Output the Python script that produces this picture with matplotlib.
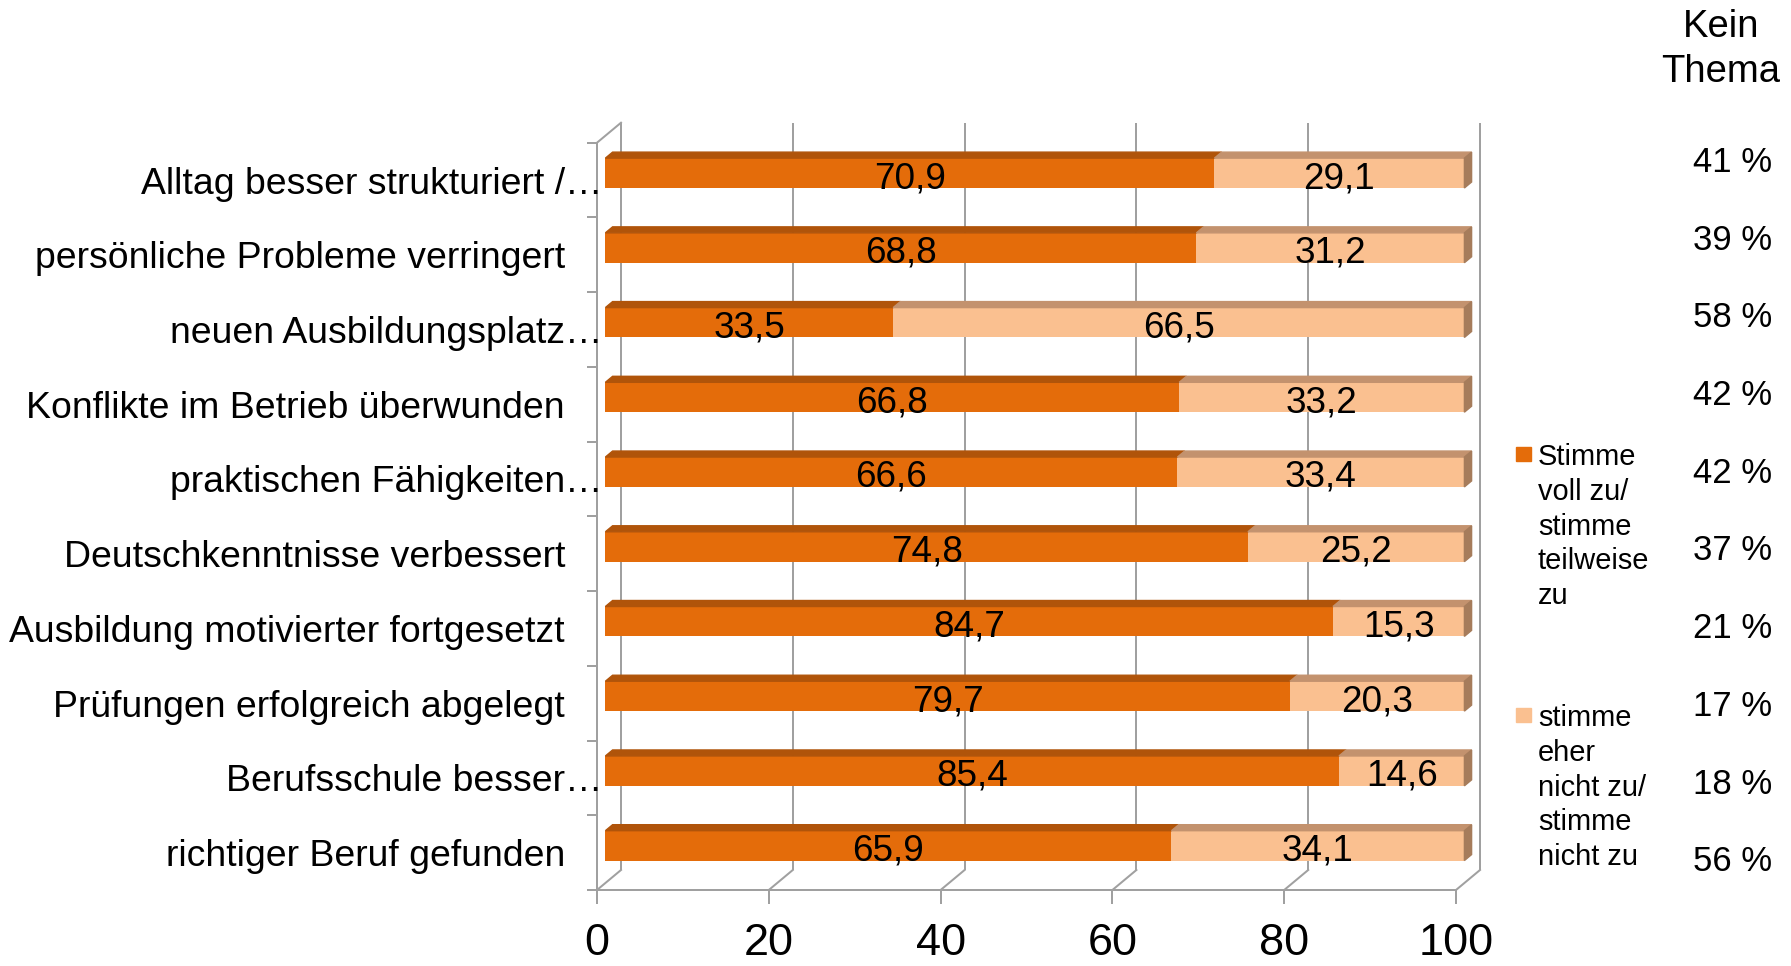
import matplotlib
matplotlib.use('Agg')
import matplotlib.pyplot as plt
from matplotlib.patches import Polygon, Rectangle
import numpy as np

plt.rcParams['font.family'] = ['Liberation Sans', 'DejaVu Sans']

# Daten (von oben nach unten)
categories = [
    'Alltag besser strukturiert /…',
    'persönliche Probleme verringert',
    'neuen Ausbildungsplatz…',
    'Konflikte im Betrieb überwunden',
    'praktischen Fähigkeiten…',
    'Deutschkenntnisse verbessert',
    'Ausbildung motivierter fortgesetzt',
    'Prüfungen erfolgreich abgelegt',
    'Berufsschule besser…',
    'richtiger Beruf gefunden',
]
agree = [70.9, 68.8, 33.5, 66.8, 66.6, 74.8, 84.7, 79.7, 85.4, 65.9]
disagree = [29.1, 31.2, 66.5, 33.2, 33.4, 25.2, 15.3, 20.3, 14.6, 34.1]
kein_thema = [41, 39, 58, 42, 42, 37, 21, 17, 18, 56]
x_ticks = [0, 20, 40, 60, 80, 100]
legend_labels = ['Stimme\nvoll zu/\nstimme\nteilweise\nzu',
                 'stimme\neher\nnicht zu/\nstimme\nnicht zu']

W, H = 1791, 966
fig = plt.figure(figsize=(W / 100, H / 100), dpi=100)
ax = fig.add_axes([597 / W, 76 / H, 859 / W, 747.3 / H])
n = len(categories)
ax.set_xlim(0, 100)
ax.set_ylim(n - 0.5, -0.5)

px_x = 859 / 100
px_y = 747.3 / n


def depth(d):
    # pseudo-3D Versatz (Pixel -> Datenkoordinaten)
    return d * 24 / px_x, -d * 20 / px_y


grid = '#A0A0A0'
lw = 1.44
dark, dark_top = '#E46C0A', '#B0540A'
light, light_top, light_side = '#FAC090', '#C3926E', '#A67C5B'

# Rückwand und Boden
bx, by = depth(1.0)
for x in x_ticks:
    ax.plot([x + bx, x + bx], [-0.5 + by, n - 0.5 + by], color=grid, lw=lw,
            zorder=1, clip_on=False, solid_capstyle='butt')
    ax.plot([x, x + bx], [n - 0.5, n - 0.5 + by], color=grid, lw=lw,
            zorder=1, clip_on=False)
ax.plot([0, bx], [-0.5, -0.5 + by], color=grid, lw=lw, zorder=1, clip_on=False)

for s in ['top', 'right']:
    ax.spines[s].set_visible(False)
for s in ['left', 'bottom']:
    ax.spines[s].set_color(grid)
    ax.spines[s].set_linewidth(lw)

# Balken
h = 0.4
fx, fy = depth(0.35)
kx, ky = depth(0.65)
y = np.arange(n)
agree_arr = np.array(agree)
ax.barh(y + fy, agree, left=fx, height=h, color=dark, zorder=3, clip_on=False)
ax.barh(y + fy, disagree, left=agree_arr + fx, height=h, color=light,
        zorder=3, clip_on=False)

for i in range(n):
    ytop = i - h / 2
    segs = [(0, agree[i], dark_top), (agree[i], agree[i] + disagree[i], light_top)]
    for x0, x1, c in segs:
        ax.add_patch(Polygon([(x0 + fx, ytop + fy), (x1 + fx, ytop + fy),
                              (x1 + kx, ytop + ky), (x0 + kx, ytop + ky)],
                             closed=True, color=c, zorder=3, clip_on=False))
    xe = agree[i] + disagree[i]
    ax.add_patch(Polygon([(xe + fx, ytop + fy), (xe + kx, ytop + ky),
                          (xe + kx, ytop + h + ky), (xe + fx, ytop + h + fy)],
                         closed=True, color=light_side, zorder=3, clip_on=False))
    # Werte
    yv = i + fy + 1.5 / px_y
    ax.text(agree[i] / 2 + fx, yv, f'{agree[i]:.1f}'.replace('.', ','),
            ha='center', va='center_baseline', fontsize=26.6, zorder=5)
    ax.text(agree[i] + disagree[i] / 2 + fx, yv,
            f'{disagree[i]:.1f}'.replace('.', ','),
            ha='center', va='center_baseline', fontsize=26.6, zorder=5)

# Achsen
ax.set_xticks(x_ticks)
ax.set_xticklabels([str(t) for t in x_ticks])
ax.tick_params(axis='x', length=10, width=lw, color=grid, labelsize=32.5, pad=14)
ax.set_yticks(np.arange(n + 1) - 0.5)
ax.set_yticklabels([])
ax.tick_params(axis='y', length=7, width=lw, color=grid)

# Kategorien
lab_x = -32 / px_x
for i, c in enumerate(categories):
    if c.endswith('…'):
        ax.text(lab_x, i, c[:-1], ha='right', va='center_baseline', fontsize=26.9,
                clip_on=False)
        ax.text(lab_x, i, '…', ha='left', va='center_baseline', fontsize=26.9,
                clip_on=False)
    else:
        ax.text(lab_x, i, c, ha='right', va='center_baseline', fontsize=26.9,
                clip_on=False)

# Legende
for lab, col, ytop_px in zip(legend_labels, [dark, light], [443, 704]):
    sq_top = ytop_px + 4
    fig.add_artist(Rectangle((1516 / W, 1 - (sq_top + 14) / H), 15 / W, 14 / H,
                             transform=fig.transFigure, color=col))
    fig.text(1538 / W, 1 - ytop_px / H, lab, ha='left', va='top',
             fontsize=20.9, linespacing=1.31)

# Kein Thema
fig.text(1721 / W, 1 - 37 / H, 'Kein', ha='center', va='baseline', fontsize=27.5)
fig.text(1721 / W, 1 - 82 / H, 'Thema', ha='center', va='baseline', fontsize=27.5)
for i, v in enumerate(kein_thema):
    fig.text(1693 / W, 1 - (172 + i * 77.7) / H, f'{v} %', ha='left',
             va='baseline', fontsize=25)

fig.savefig('out.png', dpi=100)
